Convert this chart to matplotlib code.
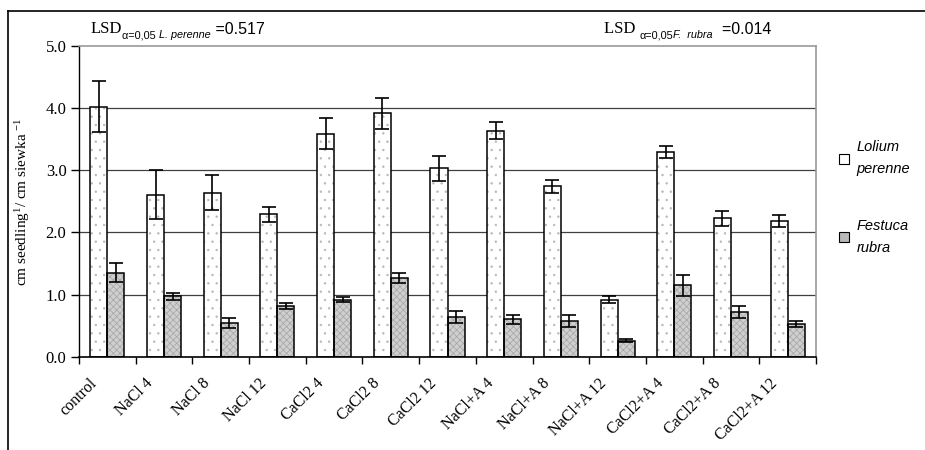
import matplotlib
matplotlib.use("Agg")
import matplotlib.pyplot as plt
import numpy as np
from matplotlib.patches import Patch
from matplotlib.lines import Line2D

plt.rcParams["mathtext.fontset"] = "custom"
plt.rcParams["mathtext.rm"] = "Liberation Serif"
plt.rcParams["mathtext.it"] = "Liberation Serif:italic"
plt.rcParams["hatch.linewidth"] = 0.5

categories = ["control", "NaCl 4", "NaCl 8", "NaCl 12", "CaCl2 4", "CaCl2 8",
              "CaCl2 12", "NaCl+A 4", "NaCl+A 8", "NaCl+A 12", "CaCl2+A 4",
              "CaCl2+A 8", "CaCl2+A 12"]
lolium = [4.02, 2.61, 2.64, 2.29, 3.59, 3.92, 3.03, 3.64, 2.74, 0.92, 3.29, 2.23, 2.18]
lolium_err = [0.41, 0.40, 0.28, 0.12, 0.25, 0.25, 0.20, 0.13, 0.10, 0.05, 0.10, 0.12, 0.10]
festuca = [1.35, 0.97, 0.54, 0.82, 0.92, 1.27, 0.64, 0.60, 0.57, 0.26, 1.15, 0.72, 0.52]
festuca_err = [0.15, 0.05, 0.08, 0.05, 0.04, 0.08, 0.10, 0.07, 0.10, 0.02, 0.17, 0.10, 0.05]
yticks = [0.0, 1.0, 2.0, 3.0, 4.0, 5.0]

SERIF = "Liberation Serif"
SANS = "Liberation Sans"
W = 0.3

fig = plt.figure(figsize=(9.25, 4.5), dpi=100)
ax = fig.add_axes([79 / 925, 1 - 356.7 / 450, (816 - 79) / 925, (356.7 - 46) / 450])

x = np.arange(len(categories))

# hatch layers first, then black outlines on top
ax.bar(x - W / 2, lolium, W, color="white", edgecolor="#b8b8b8", hatch="..", linewidth=0, zorder=2)
ax.bar(x + W / 2, festuca, W, color="#cfcfcf", edgecolor="#a4a4a4", hatch="xxxxx", linewidth=0, zorder=2)
ax.bar(x - W / 2, lolium, W, fill=False, edgecolor="black", linewidth=1.1, zorder=3)
ax.bar(x + W / 2, festuca, W, fill=False, edgecolor="black", linewidth=1.1, zorder=3)

ax.errorbar(x - W / 2, lolium, yerr=lolium_err, fmt="none", ecolor="black",
            elinewidth=1.2, capsize=5, capthick=1.2, zorder=4)
ax.errorbar(x + W / 2, festuca, yerr=festuca_err, fmt="none", ecolor="black",
            elinewidth=1.2, capsize=5, capthick=1.2, zorder=4)

ax.set_xlim(-0.5, len(categories) - 0.5)
ax.set_ylim(0, 5)
ax.set_yticks(yticks)
ax.set_yticklabels([f"{v:.1f}" for v in yticks], family=SERIF, fontsize=12)
for v in yticks[1:-1]:
    ax.axhline(v, color="#404040", linewidth=0.9, zorder=1)

ax.set_xticks(x)
ax.set_xticklabels([])
ax.set_xticks(np.arange(len(categories) + 1) - 0.5, minor=True)
ax.tick_params(axis="x", which="major", length=0)
ax.tick_params(axis="x", which="minor", length=5, width=1, direction="out")
ax.tick_params(axis="y", length=6, width=1, direction="out", pad=3)

trans = ax.get_xaxis_transform()
for xi, name in zip(x, categories):
    ax.text(xi - 0.33, -0.06, name, transform=trans, rotation=45, ha="right", va="top",
            rotation_mode="anchor", family=SERIF, fontsize=11.5)

for side in ("top", "right"):
    ax.spines[side].set_color("#9a9a9a")
    ax.spines[side].set_linewidth(1.2)
ax.spines["left"].set_linewidth(1)
ax.spines["bottom"].set_linewidth(1.2)

ax.set_ylabel(r"cm seedling$^{1}$/ cm siewka $^{-1}$", family=SERIF, fontsize=11, labelpad=10)

handles = [Patch(facecolor="white", edgecolor="black", linewidth=0.8),
           Patch(facecolor="#b8b8b8", edgecolor="black", linewidth=0.8)]
leg = ax.legend(handles, ["Lolium\nperenne", "Festuca\nrubra"], loc="upper left",
                bbox_to_anchor=(826 / 925, 1 - 127 / 450), bbox_transform=fig.transFigure,
                frameon=False, prop={"family": SANS, "style": "italic", "size": 10.5},
                handlelength=0.7, handleheight=0.7, handletextpad=0.5, labelspacing=2.9)
for t in leg.get_texts():
    t.set_linespacing(1.75)


def lsd_label(x0, y0, sub_plain, sub_it, value, gap=""):
    t1 = fig.text(x0, y0, "LSD" + gap, family=SERIF, fontsize=12, va="baseline")
    t2 = ax.annotate(sub_plain, xy=(1, 0), xycoords=t1, xytext=(0, -2.5),
                     textcoords="offset points", family=SANS, fontsize=7.8, va="bottom")
    t3 = ax.annotate(sub_it, xy=(1, 0), xycoords=t2, family=SANS, fontsize=7.8,
                     style="italic", va="bottom")
    ax.annotate(value, xy=(1, 0), xycoords=(t3, t1), family=SANS, fontsize=11.5, va="bottom")


lsd_label(91 / 925, 1 - 33 / 450, "\u03b1=0,05 ", "L. perenne", " =0.517")
lsd_label(604 / 925, 1 - 33 / 450, "\u03b1=0,05", "F.  rubra", "  =0.014", gap=" ")

fig.add_artist(Line2D([8 / 925, 1], [1 - 11 / 450, 1 - 11 / 450], color="black", linewidth=1.2))
fig.add_artist(Line2D([8 / 925, 8 / 925], [0, 1 - 11 / 450], color="black", linewidth=1.2))

fig.savefig("out.png", dpi=100)
